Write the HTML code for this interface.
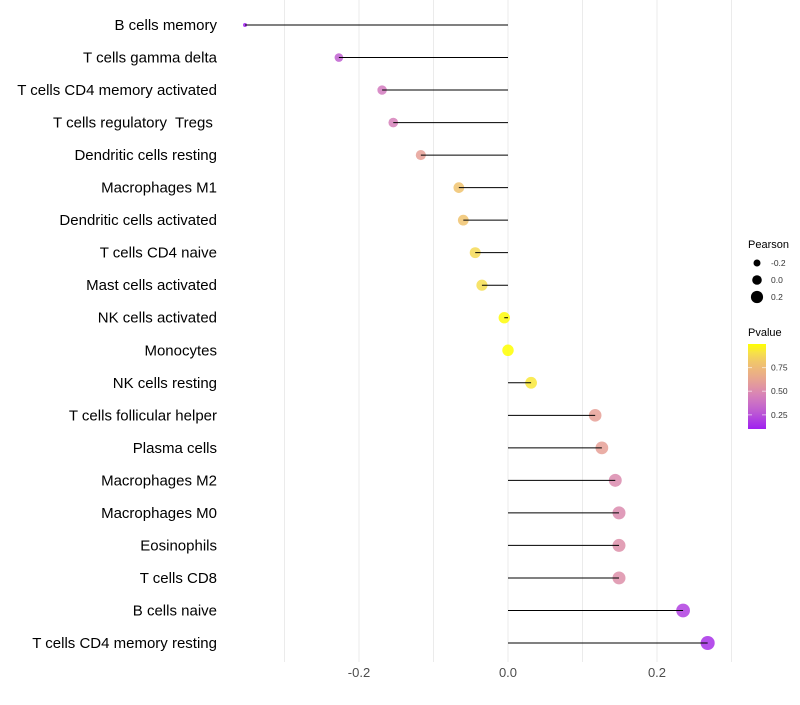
<!DOCTYPE html>
<html><head><meta charset="utf-8"><style>
body{margin:0;background:#fff;font-family:"Liberation Sans",sans-serif;}
text{white-space:pre;}
</style></head><body>
<svg id="c" width="800" height="700"></svg>
<script>
const cells=["B cells memory","T cells gamma delta","T cells CD4 memory activated","T cells regulatory  Tregs ","Dendritic cells resting","Macrophages M1","Dendritic cells activated","T cells CD4 naive","Mast cells activated","NK cells activated","Monocytes","NK cells resting","T cells follicular helper","Plasma cells","Macrophages M2","Macrophages M0","Eosinophils","T cells CD8","B cells naive","T cells CD4 memory resting"];
const pearson=[-0.353,-0.227,-0.169,-0.154,-0.117,-0.066,-0.060,-0.044,-0.035,-0.005,0.0,0.031,0.117,0.126,0.144,0.149,0.149,0.149,0.235,0.268];
const pvalue=[0.1,0.3,0.42,0.45,0.6,0.8,0.8,0.88,0.9,0.99,1.0,0.93,0.6,0.6,0.5,0.5,0.52,0.52,0.2,0.15];
const xTicks=[-0.2,0.0,0.2];
const xTickLabels=["-0.2","0.0","0.2"];
const gridMinor=[-0.3,-0.1,0.1,0.3];
const legendSizes=[-0.2,0.0,0.2];
const legendP=[0.75,0.50,0.25];

const NS="http://www.w3.org/2000/svg";
const svg=document.getElementById('c');
function el(t,a,p){const e=document.createElementNS(NS,t);for(const k in a)e.setAttribute(k,a[k]);(p||svg).appendChild(e);return e;}
const x=v=>508+v*745;
const y=i=>25+i*(618/19);
const r=v=>{const a=32.8+62*v;return a<14?2:Math.sqrt(a);};
const stops=[[0.1,[160,32,240]],[0.3,[192,96,208]],[0.45,[214,128,186]],[0.6,[230,160,150]],[0.8,[240,195,110]],[0.9,[246,222,80]],[1.0,[255,255,0]]];
function col(p){p=Math.max(0.1,Math.min(1,p));for(let k=1;k<stops.length;k++){if(p<=stops[k][0]){const [p0,c0]=stops[k-1],[p1,c1]=stops[k];const t=(p-p0)/(p1-p0);return `rgb(${c0.map((c,i)=>Math.round(c+(c1[i]-c)*t))})`;}}return 'rgb(255,255,0)';}

[...gridMinor,...xTicks].forEach(v=>{
const g=el('line',{x1:x(v),x2:x(v),y1:0,y2:662,stroke:'#ebebeb','stroke-width':1});


});
xTicks.forEach((v,i)=>{
const t=el('text',{x:x(v),y:677,'text-anchor':'middle','font-size':13,fill:'#4d4d4d'});
t.textContent=xTickLabels[i];


});
cells.forEach((c,i)=>{
const t=el('text',{x:217,y:y(i)+5,'text-anchor':'end','font-size':15,fill:'#000'});
t.textContent=c;


const d=el('circle',{cx:x(pearson[i]),cy:y(i),r:r(pearson[i]),fill:col(pvalue[i]),'fill-opacity':0.85});


const s=el('line',{x1:x(0),x2:x(pearson[i]),y1:y(i),y2:y(i),stroke:'#000','stroke-width':1});


});
const lt=el('text',{x:748,y:248,'font-size':11,fill:'#000'});lt.textContent='Pearson';


legendSizes.forEach((v,i)=>{
const cy=263+i*17;
const c=el('circle',{cx:757,cy:cy,r:3.5+i*1.3,fill:'#000'});


const t=el('text',{x:771,y:cy+3,'font-size':8.5,fill:'#333'});t.textContent=v.toFixed(1);


});
const pt=el('text',{x:748,y:336,'font-size':11,fill:'#000'});pt.textContent='Pvalue';


const defs=el('defs',{});const lg=el('linearGradient',{id:'g',x1:0,y1:1,x2:0,y2:0},defs);
for(let k=0;k<=10;k++){el('stop',{offset:k/10,'stop-color':col(0.1+0.9*k/10)},lg);}
const bar=el('rect',{x:748,y:344,width:18,height:85,fill:'url(#g)'});


legendP.forEach(p=>{
const yy=344+(1-p)/0.9*85;
el('line',{x1:748,x2:752,y1:yy,y2:yy,stroke:'#fff','stroke-opacity':0.6});
el('line',{x1:762,x2:766,y1:yy,y2:yy,stroke:'#fff','stroke-opacity':0.6});
const t=el('text',{x:771,y:yy+3,'font-size':8.5,fill:'#333'});t.textContent=p.toFixed(2);


});
</script>
</body></html>
